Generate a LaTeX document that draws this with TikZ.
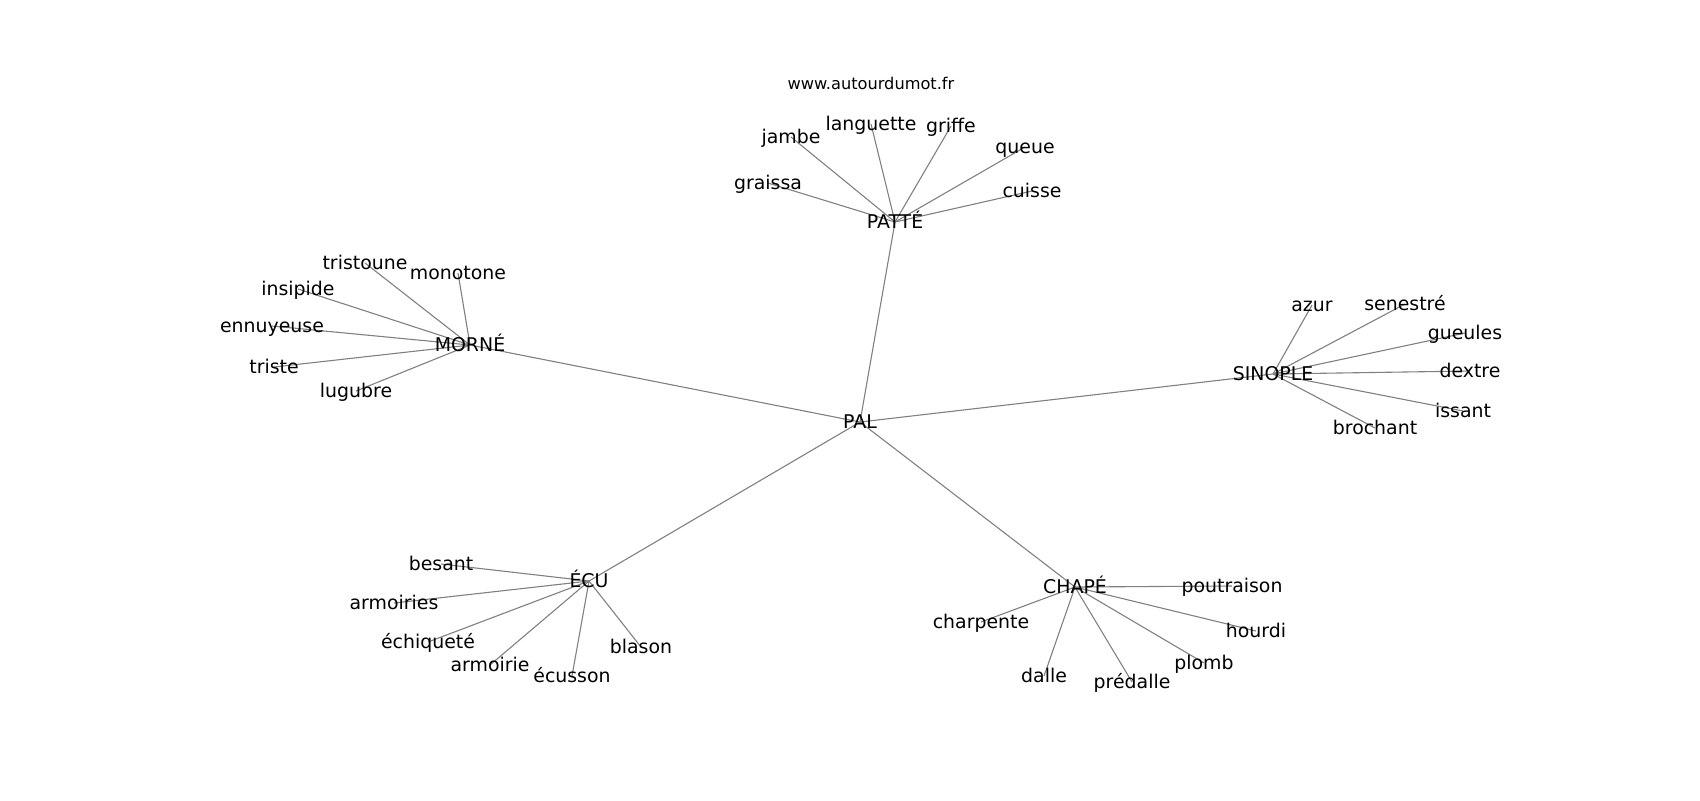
\documentclass[tikz,border=0pt]{standalone}
\usepackage{fontspec}
\setmainfont{DejaVu Sans}
\begin{document}
\begin{tikzpicture}[x=0.5pt,y=-0.5pt,
  lbl/.style={inner sep=0pt,text height=0.85em,text depth=0.2em,anchor=center,font=\fontsize{9.45pt}{11pt}\selectfont},
  web/.style={inner sep=0pt,text height=0.85em,text depth=0.2em,anchor=center,font=\fontsize{8.1pt}{10pt}\selectfont},
  edge/.style={draw=black!50,line width=0.55pt}]
\useasboundingbox (0,0) rectangle (1700,800);
% coordinates
\coordinate (pal) at (860,422);
\coordinate (patte) at (895,222);
\coordinate (morne) at (470,345);
\coordinate (sinople) at (1273,374);
\coordinate (ecu) at (589,581);
\coordinate (chape) at (1075,587);
% leaves
\coordinate (graissa) at (768,183);
\coordinate (jambe) at (791,137);
\coordinate (languette) at (871,124);
\coordinate (griffe) at (951,126);
\coordinate (queue) at (1025,147);
\coordinate (cuisse) at (1032,191);
\coordinate (tristoune) at (365,263);
\coordinate (monotone) at (458,273);
\coordinate (insipide) at (298,289);
\coordinate (ennuyeuse) at (272,326);
\coordinate (triste) at (274,367);
\coordinate (lugubre) at (356,391);
\coordinate (azur) at (1312,305);
\coordinate (senestre) at (1405,304);
\coordinate (gueules) at (1465,333);
\coordinate (dextre) at (1470,371);
\coordinate (issant) at (1463,411);
\coordinate (brochant) at (1375,428);
\coordinate (besant) at (441,564);
\coordinate (armoiries) at (394,603);
\coordinate (echiquete) at (428,642);
\coordinate (armoirie) at (490,665);
\coordinate (ecusson) at (572,676);
\coordinate (blason) at (641,647);
\coordinate (charpente) at (981,622);
\coordinate (poutraison) at (1232,586);
\coordinate (hourdi) at (1256,631);
\coordinate (plomb) at (1204,663);
\coordinate (predalle) at (1132,682);
\coordinate (dalle) at (1044,676);
% edges
\foreach \a/\b in {pal/patte,pal/morne,pal/sinople,pal/ecu,pal/chape,
  patte/graissa,patte/jambe,patte/languette,patte/griffe,patte/queue,patte/cuisse,
  morne/tristoune,morne/monotone,morne/insipide,morne/ennuyeuse,morne/triste,morne/lugubre,
  sinople/azur,sinople/senestre,sinople/gueules,sinople/dextre,sinople/issant,sinople/brochant,
  ecu/besant,ecu/armoiries,ecu/echiquete,ecu/armoirie,ecu/ecusson,ecu/blason,
  chape/charpente,chape/poutraison,chape/hourdi,chape/plomb,chape/predalle,chape/dalle}
  \draw[edge] (\a) -- (\b);
% labels
\node[web] (www) at (871,83) {www.autourdumot.fr};
\node[lbl] (tpal) at (pal) {PAL};
\node[lbl] (tpatte) at (patte) {PATTÉ};
\node[lbl] (tmorne) at (morne) {MORNÉ};
\node[lbl] (tsinople) at (sinople) {SINOPLE};
\node[lbl] (tecu) at (ecu) {ÉCU};
\node[lbl] (tchape) at (chape) {CHAPÉ};
\node[lbl] (tgraissa) at (graissa) {graissa};
\node[lbl] (tjambe) at (jambe) {jambe};
\node[lbl] (tlanguette) at (languette) {languette};
\node[lbl] (tgriffe) at (griffe) {griffe};
\node[lbl] (tqueue) at (queue) {queue};
\node[lbl] (tcuisse) at (cuisse) {cuisse};
\node[lbl] (ttristoune) at (tristoune) {tristoune};
\node[lbl] (tmonotone) at (monotone) {monotone};
\node[lbl] (tinsipide) at (insipide) {insipide};
\node[lbl] (tennuyeuse) at (ennuyeuse) {ennuyeuse};
\node[lbl] (ttriste) at (triste) {triste};
\node[lbl] (tlugubre) at (lugubre) {lugubre};
\node[lbl] (tazur) at (azur) {azur};
\node[lbl] (tsenestre) at (senestre) {senestré};
\node[lbl] (tgueules) at (gueules) {gueules};
\node[lbl] (tdextre) at (dextre) {dextre};
\node[lbl] (tissant) at (issant) {issant};
\node[lbl] (tbrochant) at (brochant) {brochant};
\node[lbl] (tbesant) at (besant) {besant};
\node[lbl] (tarmoiries) at (armoiries) {armoiries};
\node[lbl] (techiquete) at (echiquete) {échiqueté};
\node[lbl] (tarmoirie) at (armoirie) {armoirie};
\node[lbl] (tecusson) at (ecusson) {écusson};
\node[lbl] (tblason) at (blason) {blason};
\node[lbl] (tcharpente) at (charpente) {charpente};
\node[lbl] (tpoutraison) at (poutraison) {poutraison};
\node[lbl] (thourdi) at (hourdi) {hourdi};
\node[lbl] (tplomb) at (plomb) {plomb};
\node[lbl] (tpredalle) at (predalle) {prédalle};
\node[lbl] (tdalle) at (dalle) {dalle};
\end{tikzpicture}
\end{document}
